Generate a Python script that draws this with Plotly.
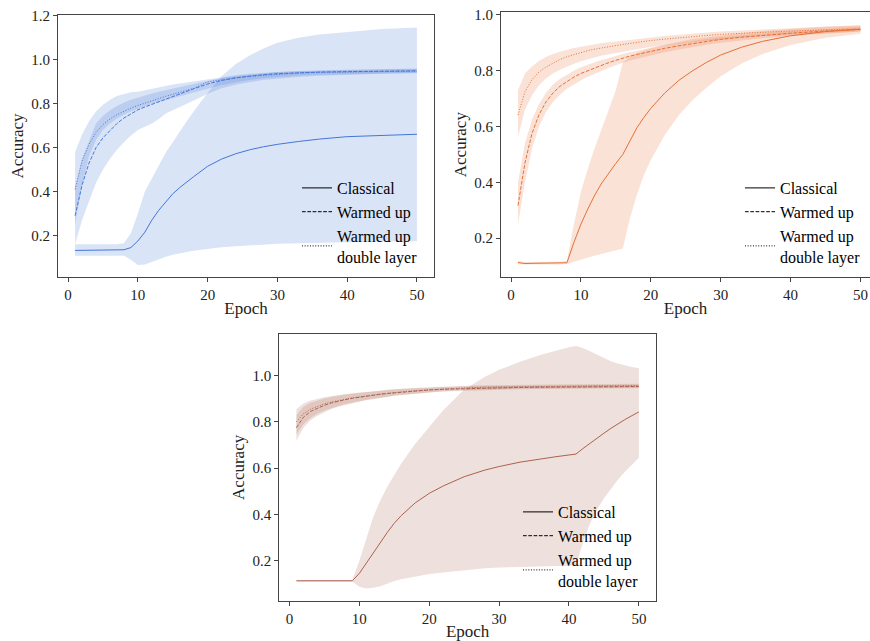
import plotly.graph_objects as go

# ---------------- data ----------------
# Panel A (top-left, blue)
EA = [1, 2, 3, 4, 5, 6, 7, 8, 9, 10, 11, 12, 13, 14, 15, 16, 17, 18, 20, 22, 24, 26, 28, 30, 33, 36, 40, 45, 50]
A_classical_mean = [.132, .132, .132, .132, .132, .132, .133, .135, .145, .175, .215, .27, .315, .355, .39, .418, .445, .468, .515, .548, .572, .59, .604, .615, .628, .639, .65, .657, .661]
A_classical_lo = [.108, .108, .108, .108, .108, .108, .108, .108, .09, .066, .068, .08, .092, .103, .112, .119, .125, .13, .139, .146, .151, .155, .159, .162, .165, .168, .171, .173, .174]
A_classical_hi = [.16, .16, .16, .16, .16, .16, .16, .165, .21, .30, .40, .46, .52, .578, .625, .675, .72, .765, .85, .925, .98, 1.02, 1.052, 1.078, 1.1, 1.115, 1.127, 1.14, 1.147]
A_warm_mean = [.29, .43, .53, .6, .645, .68, .71, .735, .755, .772, .785, .797, .81, .822, .833, .845, .857, .868, .89, .906, .918, .926, .932, .937, .941, .944, .946, .948, .95]
A_warm_lo = [.16, .27, .355, .44, .5, .55, .59, .625, .655, .68, .695, .71, .73, .755, .77, .785, .8, .815, .845, .87, .886, .898, .908, .915, .922, .927, .932, .936, .94]
A_warm_hi = [.42, .55, .63, .71, .745, .77, .79, .806, .818, .828, .837, .846, .854, .862, .869, .876, .883, .89, .905, .917, .926, .933, .938, .944, .948, .951, .954, .957, .96]
A_double_mean = [.41, .54, .615, .67, .705, .73, .75, .766, .78, .792, .803, .814, .824, .834, .843, .852, .861, .87, .9, .91, .917, .925, .93, .935, .94, .943, .945, .947, .948]
A_double_lo = [.25, .43, .56, .635, .68, .71, .732, .75, .765, .778, .789, .8, .808, .816, .824, .832, .841, .85, .868, .885, .898, .908, .916, .922, .928, .932, .935, .938, .94]
A_double_hi = [.58, .66, .72, .765, .795, .818, .835, .845, .852, .855, .862, .868, .875, .881, .887, .892, .897, .902, .912, .922, .93, .936, .941, .945, .949, .952, .955, .957, .958]

# Panel B (top-right, orange)
EB = [1, 2, 3, 4, 5, 6, 7, 8, 9, 10, 11, 12, 13, 14, 15, 16, 17, 18, 19, 20, 22, 24, 26, 28, 30, 33, 36, 40, 45, 50]
B_classical_mean = [.113, .109, .11, .11, .11, .11, .11, .112, .185, .25, .305, .355, .398, .435, .468, .50, .55, .595, .632, .665, .72, .765, .80, .83, .856, .884, .905, .925, .94, .948]
B_classical_lo = [.106, .104, .105, .105, .105, .106, .106, .108, .115, .123, .131, .138, .145, .151, .157, .163, .27, .355, .425, .48, .57, .64, .695, .74, .78, .826, .86, .892, .918, .932]
B_classical_hi = [.118, .115, .115, .115, .115, .116, .116, .118, .25, .365, .45, .525, .595, .66, .73, .83, .85, .862, .872, .88, .893, .904, .913, .92, .927, .935, .942, .95, .958, .963]
B_warm_mean = [.317, .47, .575, .642, .688, .72, .744, .762, .777, .79, .80, .81, .82, .829, .837, .845, .852, .858, .864, .87, .88, .889, .897, .905, .912, .92, .927, .934, .942, .948]
B_warm_lo = [.25, .40, .52, .60, .652, .688, .714, .735, .752, .766, .778, .79, .80, .81, .82, .828, .836, .843, .849, .855, .866, .876, .885, .893, .9, .909, .916, .924, .933, .94]
B_warm_hi = [.40, .54, .625, .68, .72, .75, .77, .786, .8, .812, .822, .83, .838, .846, .853, .86, .866, .872, .877, .882, .891, .899, .906, .913, .92, .927, .933, .941, .949, .956]
B_double_mean = [.641, .725, .768, .795, .813, .828, .84, .85, .858, .866, .872, .877, .882, .886, .89, .894, .898, .901, .905, .908, .913, .918, .922, .926, .93, .934, .938, .942, .946, .95]
B_double_lo = [.563, .66, .712, .748, .772, .79, .803, .815, .825, .834, .842, .848, .854, .859, .864, .869, .873, .877, .881, .885, .891, .897, .902, .907, .912, .918, .923, .929, .935, .94]
B_double_hi = [.73, .79, .815, .835, .849, .86, .868, .875, .881, .886, .891, .895, .899, .902, .905, .908, .911, .914, .917, .919, .924, .929, .933, .937, .94, .944, .948, .952, .957, .962]

# Panel C (bottom, brown)
EC = [1, 2, 3, 4, 5, 6, 7, 8, 9, 10, 11, 12, 13, 14, 15, 16, 18, 20, 22, 25, 28, 30, 33, 36, 38, 40, 41, 42, 43, 44, 45, 46, 47, 48, 49, 50]
C_classical_mean = [.113, .113, .113, .113, .113, .113, .113, .113, .113, .145, .19, .232, .28, .322, .362, .395, .45, .491, .523, .563, .592, .607, .626, .641, .649, .657, .661, .685, .708, .73, .751, .772, .792, .81, .827, .843]
C_classical_lo = [.11, .11, .11, .11, .11, .11, .11, .11, .11, .087, .08, .083, .09, .1, .112, .12, .132, .142, .149, .159, .167, .171, .174, .176, .177, .178, .18, .28, .36, .42, .47, .51, .55, .585, .615, .645]
C_classical_hi = [.116, .116, .116, .116, .116, .116, .116, .116, .116, .2, .3, .39, .46, .52, .57, .62, .705, .78, .85, .94, .995, 1.025, 1.06, 1.09, 1.107, 1.123, 1.128, 1.12, 1.105, 1.09, 1.075, 1.062, 1.052, 1.044, 1.037, 1.032]
C_warm_mean = [.775, .82, .845, .86, .872, .882, .89, .896, .902, .907, .912, .916, .92, .923, .926, .929, .934, .938, .941, .944, .946, .947, .949, .95, .95, .951, .951, .951, .952, .952, .952, .952, .953, .953, .953, .953]
C_warm_lo = [.72, .775, .807, .827, .843, .856, .866, .874, .882, .888, .895, .899, .905, .908, .913, .916, .922, .927, .931, .935, .938, .939, .941, .942, .942, .943, .943, .943, .944, .944, .944, .944, .945, .945, .945, .945]
C_warm_hi = [.83, .865, .883, .893, .901, .908, .914, .918, .922, .926, .929, .933, .935, .938, .939, .942, .946, .949, .951, .953, .954, .955, .957, .958, .958, .959, .959, .959, .96, .96, .96, .96, .961, .961, .961, .961]
C_double_mean = [.80, .835, .855, .868, .878, .886, .893, .899, .904, .908, .912, .916, .92, .924, .927, .93, .935, .939, .943, .947, .95, .951, .953, .954, .955, .955, .955, .955, .956, .956, .956, .956, .957, .957, .957, .957]
C_double_lo = [.745, .79, .817, .835, .849, .86, .869, .877, .884, .889, .895, .899, .905, .909, .914, .917, .923, .928, .933, .938, .942, .943, .945, .946, .947, .947, .947, .947, .948, .948, .948, .948, .949, .949, .949, .949]
C_double_hi = [.855, .88, .893, .901, .907, .912, .917, .921, .924, .927, .929, .933, .935, .939, .94, .943, .947, .95, .953, .956, .958, .959, .961, .962, .963, .963, .963, .963, .964, .964, .964, .964, .965, .965, .965, .965]

SERIES_NAMES = ["Classical", "Warmed up", "Warmed up<br>double layer"]
X_TICKS = [0, 10, 20, 30, 40, 50]

# ---------------- styling ----------------
FONT = "Liberation Serif, serif"
DASHES = ["solid", "3.7px,1.6px", "1px,1.65px"]
W, H = 870, 641

panels = [
    dict(E=EA, ax="", color=(68, 118, 214),
         series=[(A_classical_mean, A_classical_lo, A_classical_hi),
                 (A_warm_mean, A_warm_lo, A_warm_hi),
                 (A_double_mean, A_double_lo, A_double_hi)],
         box=(58, 434, 15, 277), xr=[-1.45, 52.45], yr=[0.011, 1.204],
         yticks=[0.2, 0.4, 0.6, 0.8, 1.0, 1.2], leg=(297, 171), ymirror=True),
    dict(E=EB, ax="2", color=(229, 112, 54),
         series=[(B_classical_mean, B_classical_lo, B_classical_hi),
                 (B_warm_mean, B_warm_lo, B_warm_hi),
                 (B_double_mean, B_double_lo, B_double_hi)],
         box=(501, 870, 12.3, 277), xr=[-1.43, 51.36], yr=[0.061, 1.009],
         yticks=[0.2, 0.4, 0.6, 0.8, 1.0], leg=(740, 171), ymirror=False),
    dict(E=EC, ax="3", color=(172, 98, 78),
         series=[(C_classical_mean, C_classical_lo, C_classical_hi),
                 (C_warm_mean, C_warm_lo, C_warm_hi),
                 (C_double_mean, C_double_lo, C_double_hi)],
         box=(279.3, 656, 334, 600.7), xr=[-1.45, 52.45], yr=[0.027, 1.18],
         yticks=[0.2, 0.4, 0.6, 0.8, 1.0], leg=(518, 495), ymirror=True),
]

fig = go.Figure()
layout = dict(width=W, height=H, margin=dict(l=0, r=0, t=0, b=0, autoexpand=False),
              paper_bgcolor="white", plot_bgcolor="rgba(0,0,0,0)",
              font=dict(family=FONT, color="#111"), showlegend=True)

for i, p in enumerate(panels):
    ax = p["ax"]
    xa, ya = "x" + ax, "y" + ax
    r, g, b = p["color"]
    line_col = f"rgb({r},{g},{b})"
    fill_col = f"rgba({r},{g},{b},0.2)"
    E = p["E"]
    for mean, lo, hi in p["series"]:
        fig.add_trace(go.Scatter(x=E + E[::-1], y=hi + lo[::-1], fill="toself",
                                 fillcolor=fill_col, line=dict(width=0),
                                 mode="lines", hoverinfo="skip", showlegend=False,
                                 xaxis=xa, yaxis=ya))
    for (mean, lo, hi), dash in zip(p["series"], DASHES):
        fig.add_trace(go.Scatter(x=E, y=mean, mode="lines",
                                 line=dict(color=line_col, width=1, dash=dash),
                                 showlegend=False, xaxis=xa, yaxis=ya))
    legname = "legend" + ("" if i == 0 else str(i + 1))
    for name, dash in zip(SERIES_NAMES, DASHES):
        fig.add_trace(go.Scatter(x=[None], y=[None], mode="lines", name=name,
                                 line=dict(color="black", width=1, dash=dash),
                                 legend=legname, xaxis=xa, yaxis=ya))
    x0, x1, y0, y1 = p["box"]
    common = dict(showgrid=False, zeroline=False, showline=True, linecolor="#444",
                  linewidth=1, ticks="outside", ticklen=4, tickcolor="#444",
                  automargin=False,
                  tickfont=dict(family=FONT, size=15, color="#222"))
    layout["xaxis" + ax] = dict(common, domain=[x0 / W, x1 / W], range=p["xr"],
                                tickvals=X_TICKS, mirror=True, anchor=ya,
                                title=dict(text="Epoch", font=dict(family=FONT, size=17, color="#222"),
                                           standoff=0))
    layout["yaxis" + ax] = dict(common, domain=[1 - y1 / H, 1 - y0 / H], range=p["yr"],
                                tickvals=p["yticks"], tickformat=".1f", mirror=p["ymirror"],
                                anchor=xa,
                                title=dict(text="Accuracy", font=dict(family=FONT, size=17, color="#222"),
                                           standoff=3))
    lx, ly = p["leg"]
    layout[legname] = dict(x=lx / W, y=1 - ly / H, xanchor="left", yanchor="top",
                           bgcolor="rgba(0,0,0,0)", borderwidth=0,
                           font=dict(family=FONT, size=16, color="black"),
                           traceorder="normal", itemwidth=30)

fig.update_layout(**layout)
fig.write_html("out.html")
